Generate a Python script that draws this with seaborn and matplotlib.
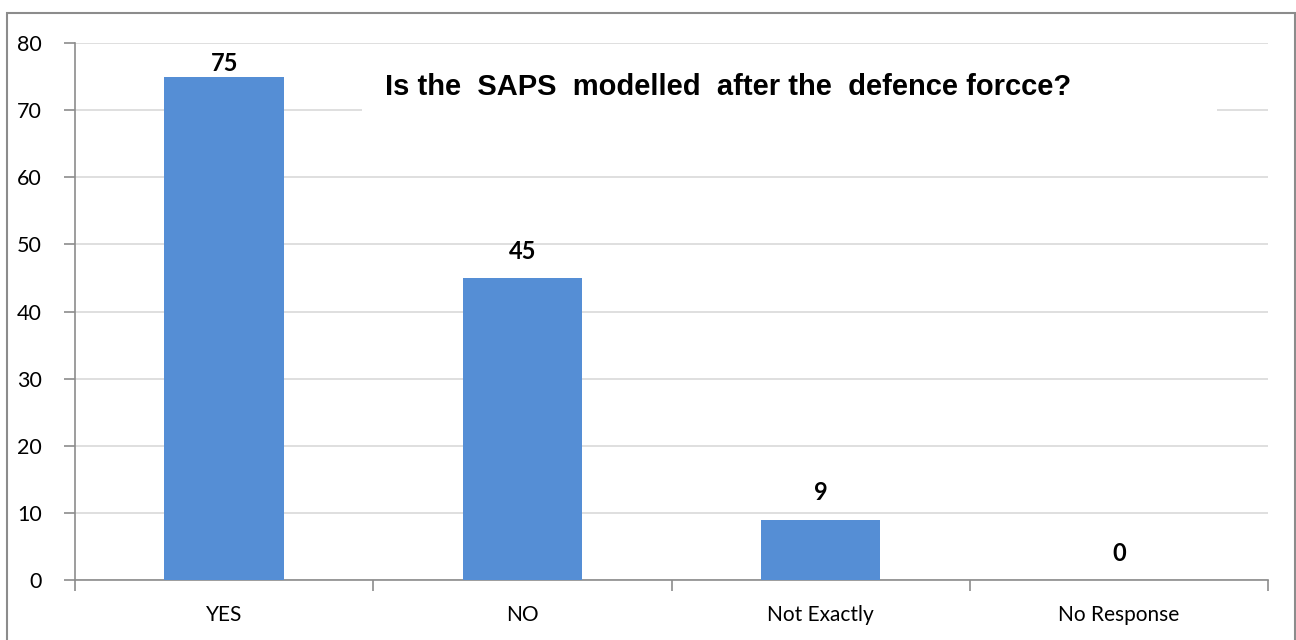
import matplotlib
matplotlib.use("Agg")
import matplotlib.pyplot as plt
import seaborn as sns
import pandas as pd
from matplotlib.patches import Rectangle

categories = ["YES", "NO", "Not Exactly", "No Response"]
values = [75, 45, 9, 0]
title_text = "Is the  SAPS  modelled  after the  defence forcce?"
yticks = [0, 10, 20, 30, 40, 50, 60, 70, 80]

sns.set_theme(style="white")
plt.rcParams['font.family'] = ['Lato', 'DejaVu Sans']
plt.rcParams['text.color'] = 'black'

df = pd.DataFrame({"cat": categories, "val": values})

fig = plt.figure(figsize=(12.96, 6.4), dpi=100)
ax = fig.add_axes([75/1296, 1-580/640, (1268-75)/1296, (580-43)/640])

sns.barplot(data=df, x="cat", y="val", color="#558ED5", width=0.4, ax=ax,
            saturation=1, zorder=3, linewidth=0)

ax.set_ylim(0, 80)
ax.set_xlim(-0.5, 3.5)
ax.set_yticks(yticks)
ax.set_yticklabels([str(t) for t in yticks], fontsize=15.5, color="black")
ax.set_xlabel("")
ax.set_ylabel("")
ax.set_xticks([-0.5, 0.5, 1.5, 2.5, 3.5], minor=True)
ax.tick_params(axis="x", which="major", bottom=False, length=0, labelsize=15, pad=18, labelcolor="black")
ax.tick_params(axis="x", which="minor", bottom=True, length=8, width=1.2, color="#8C8C8C", direction="out")
ax.tick_params(axis="y", left=True, length=8, width=1.2, color="#8C8C8C", direction="out", pad=16)

ax.yaxis.grid(True, color="#D9D9D9", linewidth=1.2, zorder=0)
ax.set_axisbelow(True)
for s in ["top", "right"]:
    ax.spines[s].set_visible(False)
for s in ["left", "bottom"]:
    ax.spines[s].set_color("#8C8C8C")
    ax.spines[s].set_linewidth(1.2)

for i, v in enumerate(values):
    ax.text(i, min(v + 4, 77), str(v), ha="center", va="center", fontsize=17,
            fontweight="bold", color="black", zorder=5)

# title box
fig.patches.append(Rectangle((362/1296, 1-125/640), (1217-362)/1296, 50/640,
                             transform=fig.transFigure, facecolor="white",
                             edgecolor="none", zorder=4))
fig.text(385/1296, 1-87/640, title_text, ha="left", va="center", fontsize=21,
         fontweight="bold", color="black",
         family=["Liberation Sans Narrow", "Liberation Sans", "DejaVu Sans"],
         zorder=6)

# outer frame
fig.patches.append(Rectangle((7/1296, -0.02), (1295-7)/1296, 1-13/640+0.02,
                             transform=fig.transFigure, facecolor="none",
                             edgecolor="#8C8C8C", linewidth=1.5, zorder=10))

fig.savefig("out.png", dpi=100)
